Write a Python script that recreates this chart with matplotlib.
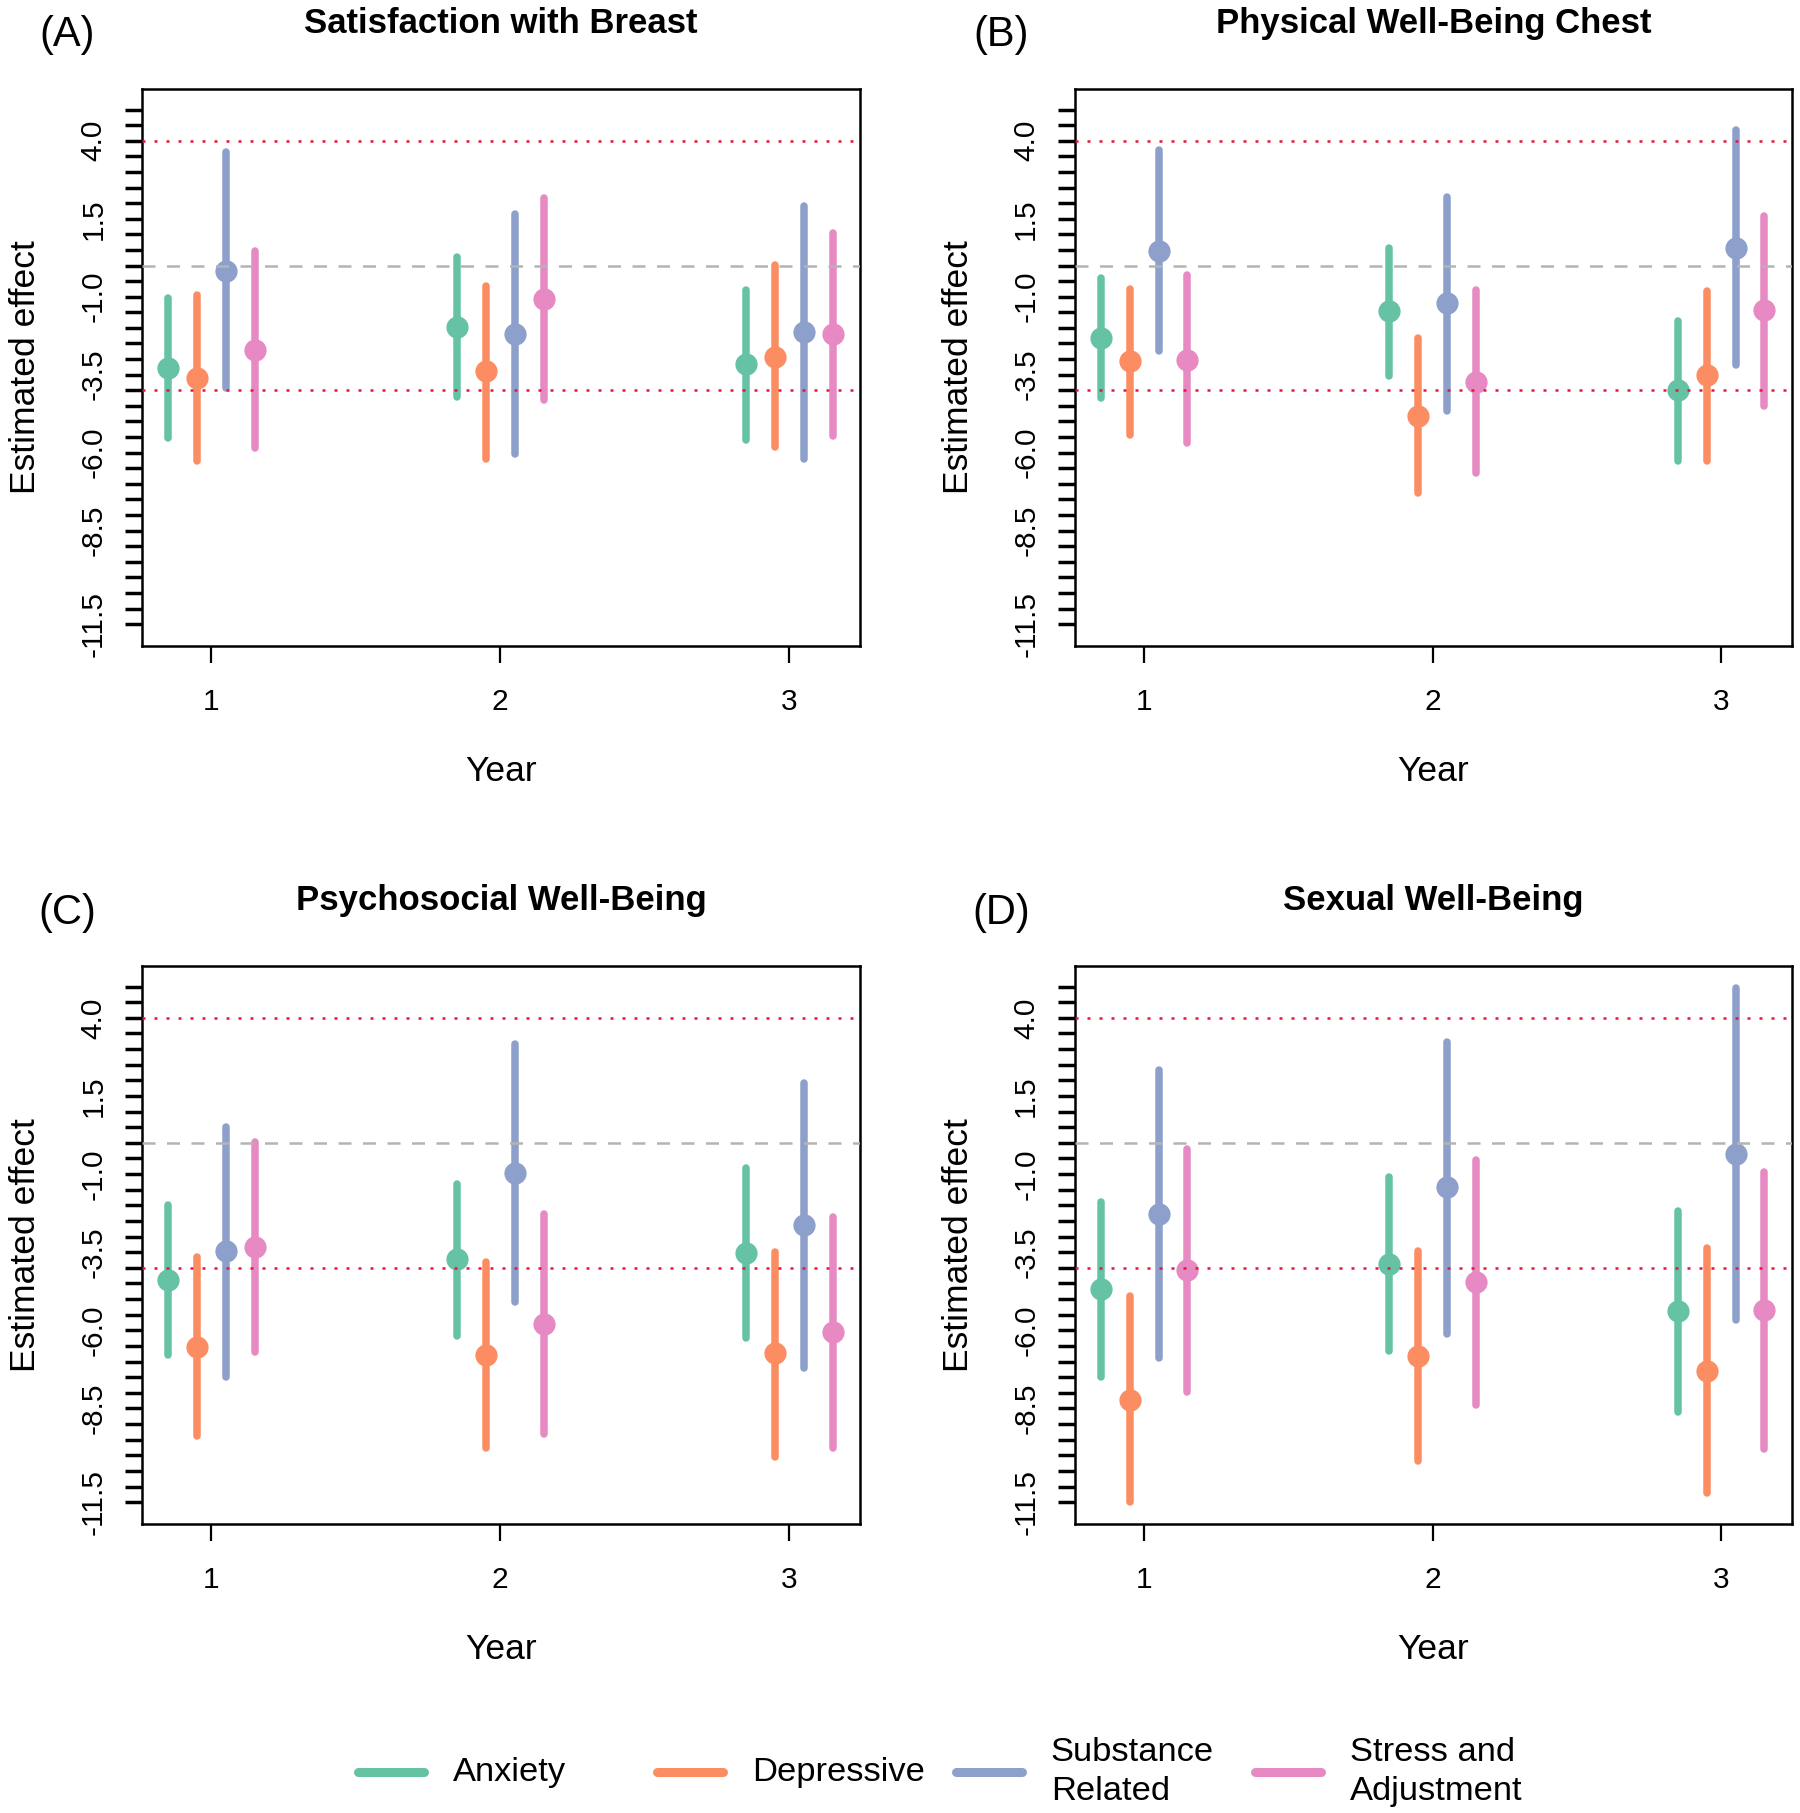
import matplotlib
matplotlib.use("Agg")
import matplotlib.pyplot as plt
import numpy as np
from matplotlib.lines import Line2D

plt.rcParams["font.family"] = ["Liberation Sans", "DejaVu Sans"]

# ---- data ----
years = [1, 2, 3]
series_labels = ["Anxiety", "Depressive", "Substance\nRelated", "Stress and\nAdjustment"]
series_colors = ["#66C2A5", "#FC8D62", "#8DA0CB", "#E78AC3"]
series_offsets = [-0.15, -0.05, 0.05, 0.15]

panel_tags = ["(A)", "(B)", "(C)", "(D)"]
panel_titles = [
    "Satisfaction with Breast",
    "Physical Well-Being Chest",
    "Psychosocial Well-Being",
    "Sexual Well-Being",
]

# rows = year 1..3, columns = series
breast_est = [[-3.29, -3.61, -0.16, -2.71], [-1.97, -3.39, -2.18, -1.07], [-3.17, -2.92, -2.13, -2.18]]
breast_lo = [[-5.54, -6.28, -3.94, -5.85], [-4.23, -6.20, -6.04, -4.31], [-5.60, -5.83, -6.22, -5.48]]
breast_hi = [[-1.05, -0.93, 3.63, 0.45], [0.28, -0.66, 1.66, 2.18], [-0.80, 0.03, 1.91, 1.04]]

chest_est = [[-2.32, -3.06, 0.47, -3.02], [-1.46, -4.82, -1.21, -3.73], [-4.00, -3.51, 0.55, -1.42]]
chest_lo = [[-4.25, -5.42, -2.75, -5.70], [-3.54, -7.31, -4.65, -6.65], [-6.28, -6.28, -3.20, -4.50]]
chest_hi = [[-0.41, -0.74, 3.72, -0.31], [0.55, -2.34, 2.21, -0.80], [-1.79, -0.83, 4.33, 1.60]]

psycho_est = [[-4.39, -6.52, -3.45, -3.35], [-3.72, -6.78, -0.98, -5.80], [-3.53, -6.74, -2.62, -6.07]]
psycho_lo = [[-6.78, -9.39, -7.48, -6.68], [-6.17, -9.76, -5.10, -9.33], [-6.26, -10.04, -7.20, -9.76]]
psycho_hi = [[-1.98, -3.67, 0.52, 0.03], [-1.31, -3.81, 3.15, -2.29], [-0.80, -3.48, 1.92, -2.39]]

sexual_est = [[-4.69, -8.23, -2.29, -4.06], [-3.88, -6.83, -1.43, -4.45], [-5.38, -7.29, -0.36, -5.34]]
sexual_lo = [[-7.48, -11.51, -6.90, -7.97], [-6.66, -10.19, -6.11, -8.39], [-8.60, -11.20, -5.68, -9.80]]
sexual_hi = [[-1.90, -4.91, 2.33, -0.19], [-1.09, -3.47, 3.23, -0.54], [-2.19, -3.36, 4.94, -0.92]]

ytick_positions = np.arange(-11.5, 5.01, 0.5)
ytick_labeled = [4.0, 1.5, -1.0, -3.5, -6.0, -8.5, -11.5]
threshold = 4.0


def draw_panel(ax, est, lo, hi, title):
    est, lo, hi = np.asarray(est), np.asarray(lo), np.asarray(hi)
    x_years = np.asarray(years, dtype=float)
    for j, (color, off) in enumerate(zip(series_colors, series_offsets)):
        x = x_years + off
        ax.vlines(x, lo[:, j], hi[:, j], colors=color, lw=5.4, capstyle="round", zorder=3)
        ax.plot(x, est[:, j], "o", color=color, ms=16, mec="none", zorder=4)

    ax.axhline(0, color="#b4b4b4", lw=1.8, ls=(0, (5.2, 4.6)), zorder=5)
    for y in (threshold, -threshold):
        ax.axhline(y, color="#e8173a", lw=1.8, ls=(0, (1.2, 3.6)), zorder=5)

    ax.set_xlim(0.76, 3.245)
    ax.set_ylim(-12.2, 5.66)
    ax.set_xticks(years)
    ax.set_xticklabels([str(y) for y in years])
    ax.set_yticks(ytick_positions)
    labels = [f"{v:.1f}" if any(np.isclose(v, ytick_labeled)) else "" for v in ytick_positions]
    ax.set_yticklabels(labels, rotation=90, va="center")
    ax.tick_params(axis="y", length=12, width=2.5, labelsize=21.5, pad=13)
    ax.tick_params(axis="x", length=12, width=1.6, labelsize=21.5, pad=18)
    for sp in ax.spines.values():
        sp.set_linewidth(1.8)
    ax.set_xlabel("Year", fontsize=25.5, labelpad=28)
    ax.set_ylabel("Estimated effect", fontsize=25.5, labelpad=27)
    ax.set_title(title, fontsize=25, fontweight="bold", pad=40)


fig = plt.figure(figsize=(18, 18.13), dpi=100)

panel_rects = [
    [0.0789, 0.6437, 0.3989, 0.3072],
    [0.5972, 0.6437, 0.3983, 0.3072],
    [0.0789, 0.1594, 0.3989, 0.3078],
    [0.5972, 0.1594, 0.3983, 0.3078],
]
tag_positions = [(0.0372, 0.9807), (0.556, 0.9807), (0.0372, 0.4964), (0.556, 0.4964)]
panel_data = [
    (breast_est, breast_lo, breast_hi),
    (chest_est, chest_lo, chest_hi),
    (psycho_est, psycho_lo, psycho_hi),
    (sexual_est, sexual_lo, sexual_hi),
]

for rect, (est, lo, hi), title, tag, (tx, ty) in zip(
    panel_rects, panel_data, panel_titles, panel_tags, tag_positions
):
    ax = fig.add_axes(rect)
    draw_panel(ax, est, lo, hi, title)
    fig.text(tx, ty, tag, fontsize=30, ha="center", va="center")

# legend laid out in equal-width columns like the original
legend_y = 0.0226
legend_x0 = 0.199
legend_step = 0.166
handle_len = 0.0367
text_gap = 0.0161
for i, (label, color) in enumerate(zip(series_labels, series_colors)):
    x0 = legend_x0 + i * legend_step
    fig.add_artist(
        Line2D([x0, x0 + handle_len], [legend_y, legend_y], transform=fig.transFigure,
               color=color, lw=6.5, solid_capstyle="round")
    )
    fig.text(x0 + handle_len + text_gap, legend_y, label, fontsize=24.8,
             ha="left", va="center", linespacing=1.3)

fig.savefig("out.png", dpi=100)
